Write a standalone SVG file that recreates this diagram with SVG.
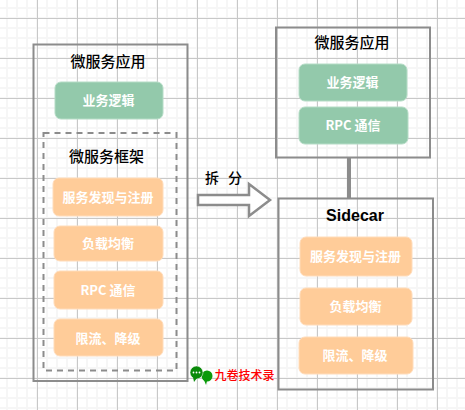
<svg xmlns="http://www.w3.org/2000/svg" width="465" height="410" viewBox="0 0 465 410">
<style>
text{font-family:"Noto Sans CJK SC","Liberation Sans",sans-serif;text-anchor:middle}
.t{font-size:15px;fill:#000;font-weight:500}
.w{font-size:13px;fill:#fff;font-weight:700}
.box{fill:none;stroke:#8c8c8c;stroke-width:2}
.g{fill:#93c9ab;stroke:#b5dcc6;stroke-width:1}
.o{fill:#ffcc99;stroke:#ffdcba;stroke-width:1}
</style>
<defs>
<pattern id="minor" width="10" height="10" patternUnits="userSpaceOnUse" x="6" y="7"><path d="M1 0V10M0 1H10" fill="none" stroke="#f6f6f6" stroke-width="2"/></pattern>
<pattern id="major" width="40" height="40" patternUnits="userSpaceOnUse" x="37" y="18"><path d="M.5 0V40M0 .5H40" fill="none" stroke="#c8c8c8"/></pattern>
</defs>
<rect width="465" height="410" fill="#fff"/>
<rect width="465" height="410" fill="url(#minor)"/>
<rect width="465" height="410" fill="url(#major)"/>
<g id="connectors">
<path d="M349 158V198" stroke="#8c8c8c" stroke-width="4" fill="none"/>
<path d="M198 195H249V184L270 200L249 216V205H198Z" fill="#fff" stroke="#8c8c8c" stroke-width="2.500"/>
</g>
<g id="left-app"><rect class="box" x="33.500" y="44.500" width="154" height="336.500"/><text class="t" x="108" y="66.500">微服务应用</text></g>
<g id="left-logic"><rect class="g" x="55" y="82" width="108" height="37" rx="6"/><text class="w" x="108.500" y="105">业务逻辑</text></g>
<g id="framework"><rect x="43.500" y="133" width="133" height="237.500" fill="none" stroke="#8c8c8c" stroke-width="2" stroke-dasharray="6 5"/><text class="t" x="106.500" y="162">微服务框架</text></g>
<g id="left-discovery"><rect class="o" x="53" y="178" width="110" height="38" rx="6"/><text class="w" x="108" y="202">服务发现与注册</text></g>
<g id="left-lb"><rect class="o" x="54" y="226" width="109" height="35" rx="6"/><text class="w" x="108" y="248">负载均衡</text></g>
<g id="left-rpc"><rect class="o" x="54" y="271" width="109" height="38" rx="6"/><text class="w" x="108" y="295">RPC 通信</text></g>
<g id="left-limit"><rect class="o" x="54" y="319" width="109" height="37" rx="6"/><text class="w" x="108" y="343">限流、降级</text></g>
<g id="split-label"><text x="223.500" y="183" style="font-size:14px;fill:#000;font-weight:500">拆<tspan dx="9">分</tspan></text></g>
<g id="right-app"><rect class="box" x="276" y="27.500" width="154" height="130"/><text class="t" x="352" y="48">微服务应用</text></g>
<g id="right-logic"><rect class="g" x="299" y="64" width="108" height="37" rx="6"/><text class="w" x="352.500" y="87">业务逻辑</text></g>
<g id="right-rpc"><rect class="g" x="299" y="107" width="109" height="37" rx="6"/><text class="w" x="353" y="130">RPC 通信</text></g>
<g id="sidecar"><rect class="box" x="278.500" y="198.500" width="154.500" height="191"/><text x="355" y="221" style="font-family:'Liberation Sans',sans-serif;font-size:16px;font-weight:700;fill:#000">Sidecar</text></g>
<g id="right-discovery"><rect class="o" x="300" y="237" width="112" height="39" rx="6"/><text class="w" x="355.500" y="261">服务发现与注册</text></g>
<g id="right-lb"><rect class="o" x="300" y="288" width="112" height="37" rx="6"/><text class="w" x="355.500" y="311">负载均衡</text></g>
<g id="right-limit"><rect class="o" x="299" y="337" width="114" height="37" rx="6"/><text class="w" x="355" y="360">限流、降级</text></g>
<g id="watermark">
<circle cx="207" cy="376" r="5.500" fill="#0a9a0a"/>
<path d="M204 380l2 5 1-4Z" fill="#0a9a0a"/>
<circle cx="196.500" cy="372.500" r="6.500" fill="#0a8a0a" stroke="#fff" stroke-width=".5"/>
<path d="M193 377l1 5 3-4Z" fill="#0a8a0a"/>
<circle cx="193.500" cy="372.500" r=".9" fill="#fff"/><circle cx="196.500" cy="372.500" r=".9" fill="#fff"/><circle cx="199.500" cy="372.500" r=".9" fill="#fff"/>
<text x="244.500" y="380" style="font-size:12px;fill:#f00;font-weight:500">九卷技术录</text>
</g>
</svg>
